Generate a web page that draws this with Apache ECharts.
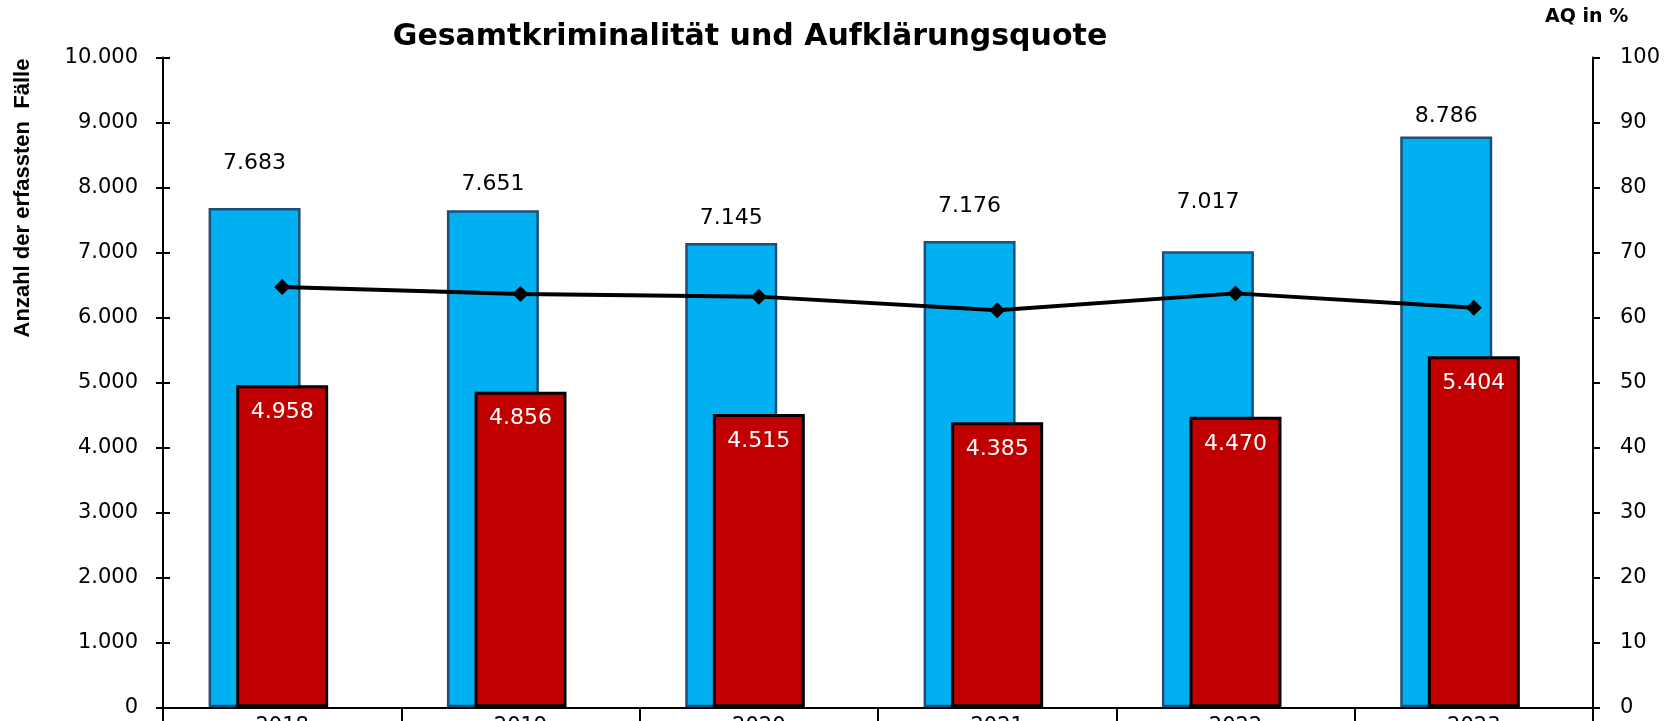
<!DOCTYPE html>
<html>
<head>
<meta charset="utf-8">
<script src="https://cdn.jsdelivr.net/npm/echarts@6/dist/echarts.min.js"></script>
<style>
  body, html { margin: 0; padding: 0; width: 100%; height: 100%; overflow: hidden; background: #fff; }
  #chart { width: 1679px; height: 721px; }
</style>
</head>
<body>
<div id="chart"></div>
<script>
  // Werte
  var years = ['2018', '2019', '2020', '2021', '2022', '2023'];
  var erfasst = [7683, 7651, 7145, 7176, 7017, 8786];
  var aufgeklaert = [4958, 4856, 4515, 4385, 4470, 5404];
  var quote = [64.7, 63.6, 63.2, 61.1, 63.7, 61.5];
  // Abstand der Beschriftung über den blauen Säulen (wie im Original von Hand gesetzt)
  var blueLabelGap = [34, 15, 14, 24, 38, 9];

  var font = 'DejaVu Sans';
  function dotted(v) {
    return String(v).replace(/\B(?=(\d{3})+(?!\d))/g, '.');
  }

  var chart = echarts.init(document.getElementById('chart'));
  chart.setOption({
    backgroundColor: '#fff',
    animation: false,
    grid: { left: 163, right: 86, top: 57.5, bottom: 13.7, outerBoundsMode: 'none', containLabel: false },
    graphic: [
      { type: 'text', x: 750, y: 37, style: {
          text: 'Gesamtkriminalität und Aufklärungsquote', fill: '#000',
          font: 'bold 30px "DejaVu Sans"', textAlign: 'center', textVerticalAlign: 'middle' } },
      { type: 'text', x: 1545, y: 17, style: {
          text: 'AQ in %', fill: '#000',
          font: 'bold 19px "DejaVu Sans"', textAlign: 'left', textVerticalAlign: 'middle' } },
      { type: 'text', x: 23, y: 198, rotation: Math.PI / 2, style: {
          text: 'Anzahl der erfassten  Fälle', fill: '#000',
          font: 'bold 22px "Liberation Sans"', textAlign: 'center', textVerticalAlign: 'middle' } }
    ],
    xAxis: {
      type: 'category',
      data: years,
      axisLine: { lineStyle: { color: '#000', width: 2 } },
      axisTick: { show: true, length: 20, lineStyle: { color: '#000', width: 2 } },
      axisLabel: { color: '#000', fontFamily: font, fontSize: 21, margin: 9 }
    },
    yAxis: [
      {
        type: 'value', position: 'left', min: 0, max: 10000, interval: 1000,
        axisLine: { show: true, lineStyle: { color: '#000', width: 2 } },
        axisTick: { show: true, length: 7, lineStyle: { color: '#000', width: 2 } },
        axisLabel: { color: '#000', fontFamily: font, fontSize: 21, margin: 25, formatter: dotted },
        splitLine: { show: false }
      },
      {
        type: 'value', position: 'right', min: 0, max: 100, interval: 10,
        axisLine: { show: true, lineStyle: { color: '#000', width: 2 } },
        axisTick: { show: true, length: 7, lineStyle: { color: '#000', width: 2 } },
        axisLabel: { color: '#000', fontFamily: font, fontSize: 21, margin: 27 },
        splitLine: { show: false }
      },
      {
        type: 'value', position: 'left', min: 0, max: 10000, interval: 1000,
        axisLine: { show: false },
        axisTick: { show: true, inside: true, length: 7, lineStyle: { color: '#000', width: 2 } },
        axisLabel: { show: false },
        splitLine: { show: false }
      }
    ],
    series: [
      {
        name: 'erfasste Fälle', type: 'bar', barWidth: 92, barGap: '-70%',
        data: erfasst.map(function (v, i) {
          return { value: v, label: { distance: blueLabelGap[i] } };
        }),
        itemStyle: { color: '#00B0F0', borderColor: '#1F4E79', borderWidth: 2.5 },
        label: { show: true, position: 'top', color: '#000', fontFamily: font, fontSize: 22,
                 formatter: function (p) { return dotted(p.value); } }
      },
      {
        name: 'aufgeklärte Fälle', type: 'bar', barWidth: 92, barGap: '-70%',
        data: aufgeklaert,
        itemStyle: { color: '#C00000', borderColor: '#000', borderWidth: 3 },
        label: { show: true, position: 'insideTop', distance: 16, color: '#fff', fontFamily: font, fontSize: 22,
                 formatter: function (p) { return dotted(p.value); } }
      },
      {
        name: 'platzhalter', type: 'bar', barWidth: 92, barGap: '-70%',
        data: years.map(function () { return null; }),
        silent: true
      },
      {
        name: 'AQ', type: 'line', yAxisIndex: 1, z: 5,
        data: quote,
        symbol: 'diamond', symbolSize: 16,
        itemStyle: { color: '#000' },
        lineStyle: { color: '#000', width: 4 }
      }
    ]
  });
</script>
</body>
</html>
